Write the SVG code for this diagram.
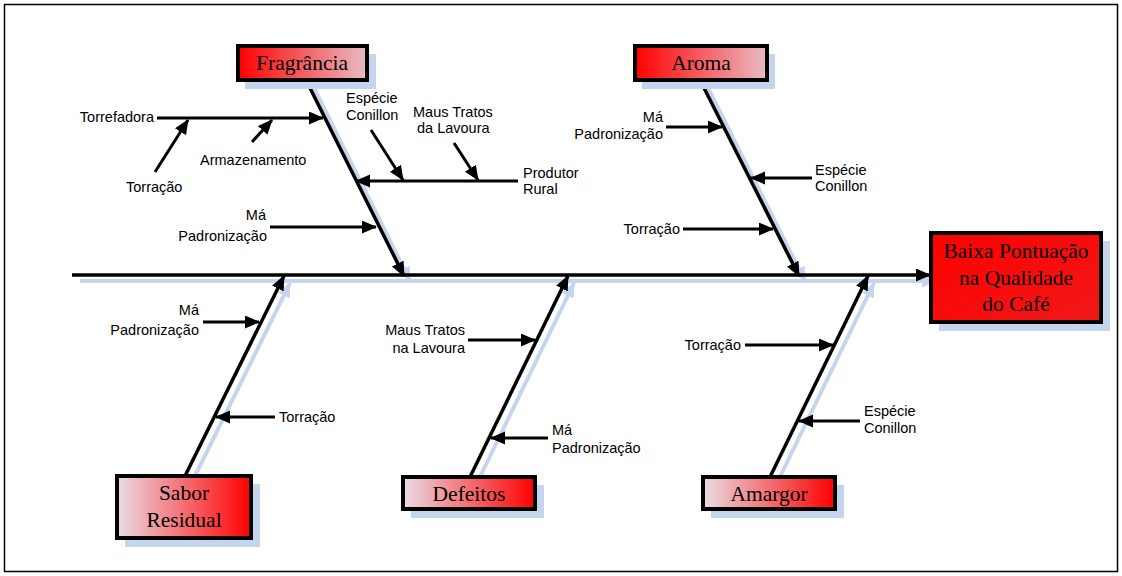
<svg xmlns="http://www.w3.org/2000/svg" width="1122" height="576" viewBox="0 0 1122 576">
<defs>
<linearGradient id="gTop" x1="0" y1="0" x2="1" y2="0">
<stop offset="0" stop-color="#ff0000"/><stop offset="1" stop-color="#e9bcc4"/>
</linearGradient>
<linearGradient id="gBot" x1="0" y1="0" x2="1" y2="0">
<stop offset="0" stop-color="#e9dce4"/><stop offset="1" stop-color="#ff0000"/>
</linearGradient>
<linearGradient id="gEff" x1="0" y1="0" x2="1" y2="1">
<stop offset="0" stop-color="#ff0000"/><stop offset="1" stop-color="#f01818"/>
</linearGradient>
<marker id="ah" markerUnits="userSpaceOnUse" markerWidth="16" markerHeight="14" refX="14" refY="6.5" orient="auto">
<path d="M0,0 L15,6.5 L0,13 z" fill="#000"/>
</marker>
<marker id="ahs" markerUnits="userSpaceOnUse" markerWidth="16" markerHeight="14" refX="14" refY="6.5" orient="auto">
<path d="M0,0 L15,6.5 L0,13 z" fill="#c6d5ee"/>
</marker>
</defs>
<style>
.box{stroke:#000;stroke-width:4}
.shadow{fill:#c6d5ee}
.sl{stroke:#c6d5ee;stroke-width:4;fill:none}
.ln{stroke:#000;stroke-width:3.5;fill:none}
.sm{stroke:#000;stroke-width:3;fill:none}
.t{font-family:"Liberation Sans",Arial,sans-serif;font-size:14.5px;fill:#000}
.bt{font-family:"Liberation Serif","Times New Roman",serif;font-size:21.5px;fill:#000;text-anchor:middle}
.r{text-anchor:end}
</style>
<rect x="0" y="0" width="1122" height="576" fill="#fff"/>
<rect x="4.5" y="4.5" width="1113" height="567" fill="none" stroke="#000" stroke-width="1.5"/>

<g id="connectors">
<line class="sl" x1="80" y1="281" x2="936" y2="281" marker-end="url(#ahs)"/>
<line class="sl" x1="313" y1="86" x2="410" y2="281" marker-end="url(#ahs)"/>
<line class="sl" x1="707" y1="86" x2="805" y2="281" marker-end="url(#ahs)"/>
<line class="sl" x1="192" y1="482" x2="290" y2="283" marker-end="url(#ahs)"/>
<line class="sl" x1="477" y1="483" x2="574" y2="283" marker-end="url(#ahs)"/>
<line class="sl" x1="777" y1="483" x2="874" y2="283" marker-end="url(#ahs)"/>
<line class="ln" x1="72" y1="275" x2="930" y2="275" marker-end="url(#ah)"/>
<line class="ln" x1="306" y1="80" x2="404" y2="276" marker-end="url(#ah)"/>
<line class="ln" x1="700" y1="80" x2="799" y2="276" marker-end="url(#ah)"/>
<line class="ln" x1="185" y1="476" x2="284" y2="276" marker-end="url(#ah)"/>
<line class="ln" x1="470" y1="477" x2="568" y2="276" marker-end="url(#ah)"/>
<line class="ln" x1="770" y1="477" x2="868" y2="276" marker-end="url(#ah)"/>
<line class="sm" x1="157" y1="118" x2="323" y2="118" marker-end="url(#ah)"/>
<line class="sm" x1="155" y1="172" x2="188" y2="120" marker-end="url(#ah)"/>
<line class="sm" x1="252" y1="142" x2="272" y2="120" marker-end="url(#ah)"/>
<line class="sm" x1="518" y1="181" x2="356" y2="181" marker-end="url(#ah)"/>
<line class="sm" x1="371" y1="130" x2="403" y2="180" marker-end="url(#ah)"/>
<line class="sm" x1="454" y1="143" x2="478" y2="180" marker-end="url(#ah)"/>
<line class="sm" x1="270" y1="227" x2="376" y2="227" marker-end="url(#ah)"/>
<line class="sm" x1="666" y1="127" x2="722" y2="127" marker-end="url(#ah)"/>
<line class="sm" x1="812" y1="178" x2="751" y2="178" marker-end="url(#ah)"/>
<line class="sm" x1="683" y1="229" x2="773" y2="229" marker-end="url(#ah)"/>
<line class="sm" x1="203" y1="322" x2="259" y2="322" marker-end="url(#ah)"/>
<line class="sm" x1="275" y1="417" x2="216" y2="417" marker-end="url(#ah)"/>
<line class="sm" x1="468" y1="340" x2="535" y2="340" marker-end="url(#ah)"/>
<line class="sm" x1="548" y1="438" x2="491" y2="438" marker-end="url(#ah)"/>
<line class="sm" x1="745" y1="345" x2="833" y2="345" marker-end="url(#ah)"/>
<line class="sm" x1="860" y1="421" x2="799" y2="421" marker-end="url(#ah)"/>
</g>

<g id="labels">
<text class="t r" x="154" y="122">Torrefadora</text>
<text class="t" x="126" y="192">Torração</text>
<text class="t" x="200" y="165">Armazenamento</text>
<text class="t" x="346" y="103">Espécie</text>
<text class="t" x="346" y="120">Conillon</text>
<text class="t" x="413" y="117">Maus Tratos</text>
<text class="t" x="417" y="133">da Lavoura</text>
<text class="t" x="523" y="178">Produtor</text>
<text class="t" x="523" y="194">Rural</text>
<text class="t r" x="266" y="220">Má</text>
<text class="t r" x="267" y="241">Padronização</text>
<text class="t r" x="663" y="122">Má</text>
<text class="t r" x="663" y="139">Padronização</text>
<text class="t" x="815" y="175">Espécie</text>
<text class="t" x="815" y="191">Conillon</text>
<text class="t r" x="680" y="234">Torração</text>
<text class="t r" x="199" y="315">Má</text>
<text class="t r" x="199" y="335">Padronização</text>
<text class="t" x="279" y="422">Torração</text>
<text class="t r" x="465" y="335">Maus Tratos</text>
<text class="t r" x="465" y="353">na Lavoura</text>
<text class="t" x="552" y="435">Má</text>
<text class="t" x="552" y="453">Padronização</text>
<text class="t r" x="741" y="350">Torração</text>
<text class="t" x="864" y="416">Espécie</text>
<text class="t" x="864" y="433">Conillon</text>
</g>

<g id="fragrancia">
<rect class="shadow" x="245" y="54" width="131" height="35"/>
<rect class="box" x="238" y="46" width="129" height="34" fill="url(#gTop)"/>
<text class="bt" x="302" y="70">Fragrância</text>
</g>
<g id="aroma">
<rect class="shadow" x="642" y="54" width="133" height="35"/>
<rect class="box" x="635" y="46" width="132" height="34" fill="url(#gTop)"/>
<text class="bt" x="701" y="70">Aroma</text>
</g>
<g id="efeito">
<rect class="shadow" x="939" y="241" width="171" height="90"/>
<rect class="box" x="931" y="233" width="170" height="89" fill="url(#gEff)"/>
<text class="bt" x="1016" y="258">Baixa Pontuação</text>
<text class="bt" x="1016" y="285">na Qualidade</text>
<text class="bt" x="1016" y="311">do Café</text>
</g>
<g id="sabor">
<rect class="shadow" x="125" y="484" width="135" height="63"/>
<rect class="box" x="117" y="476" width="134" height="62" fill="url(#gBot)"/>
<text class="bt" x="184" y="500">Sabor</text>
<text class="bt" x="184" y="527">Residual</text>
</g>
<g id="defeitos">
<rect class="shadow" x="411" y="485" width="133" height="33"/>
<rect class="box" x="403" y="477" width="132" height="32" fill="url(#gBot)"/>
<text class="bt" x="469" y="501">Defeitos</text>
</g>
<g id="amargor">
<rect class="shadow" x="711" y="485" width="133" height="33"/>
<rect class="box" x="703" y="477" width="132" height="32" fill="url(#gBot)"/>
<text class="bt" x="769" y="501">Amargor</text>
</g>
</svg>
